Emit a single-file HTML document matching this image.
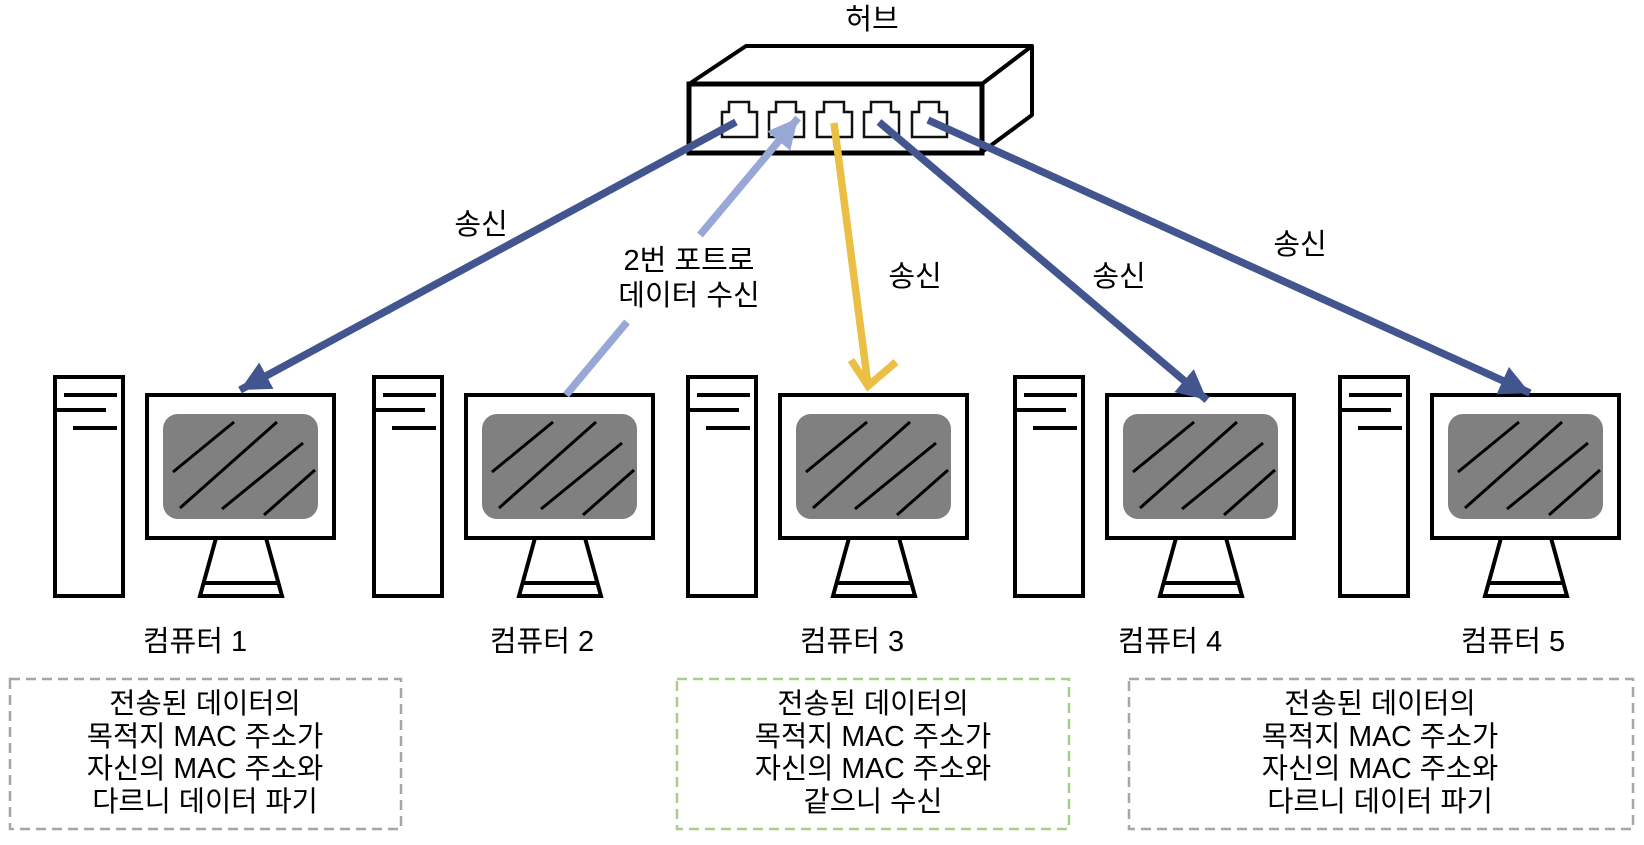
<!DOCTYPE html>
<html><head><meta charset="utf-8"><style>
html,body{margin:0;padding:0;background:#fff;}
svg text{font-family:"Liberation Sans","Noto Sans CJK KR",sans-serif;fill:#000;}
</style></head><body>
<svg width="1644" height="840" viewBox="0 0 1644 840" xmlns="http://www.w3.org/2000/svg">
<defs>
<marker id="ad" viewBox="0 0 4 4" refX="4" refY="2" markerWidth="4" markerHeight="4" orient="auto" markerUnits="strokeWidth"><path d="M0,0 L4,2 L0,4 z" fill="#42558F"/></marker>
<marker id="al" viewBox="0 0 4 4" refX="4" refY="2" markerWidth="4" markerHeight="4" orient="auto" markerUnits="strokeWidth"><path d="M0,0 L4,2 L0,4 z" fill="#97A8D6"/></marker>
<g id="comp">
  <rect x="-92" y="-18" width="68" height="219" fill="#fff" stroke="#000" stroke-width="4"/>
  <line x1="-83" y1="0" x2="-30" y2="0" stroke="#000" stroke-width="4"/>
  <line x1="-92" y1="15" x2="-41" y2="15" stroke="#000" stroke-width="4"/>
  <line x1="-74" y1="33" x2="-30" y2="33" stroke="#000" stroke-width="4"/>
  <rect x="0" y="0" width="187" height="143" fill="#fff" stroke="#000" stroke-width="4"/>
  <rect x="16" y="19" width="155" height="105" rx="15" fill="#808080"/>
  <g stroke="#000" stroke-width="3">
    <line x1="26" y1="77" x2="87" y2="27"/>
    <line x1="33" y1="113" x2="130" y2="27"/>
    <line x1="75" y1="114" x2="156" y2="48"/>
    <line x1="117" y1="120" x2="168" y2="75"/>
  </g>
  <polygon points="69,143 119,143 135,201 53,201" fill="#fff" stroke="#000" stroke-width="4"/>
  <line x1="57" y1="188" x2="131" y2="188" stroke="#000" stroke-width="4"/>
</g>
<g id="port">
  <path d="M0,0 H7 V-10 H27 V0 H35 V25 H0 Z" fill="#fff" stroke="#111" stroke-width="2.5"/>
</g>
</defs>

<!-- hub -->
<text x="872" y="29" font-size="29" text-anchor="middle">허브</text>
<polygon points="689,84 746,46 1032,46 982,84" fill="#fff" stroke="#000" stroke-width="4" stroke-linejoin="round"/>
<polygon points="982,84 1032,46 1032,115 982,152" fill="#fff" stroke="#000" stroke-width="4" stroke-linejoin="round"/>
<rect x="689" y="84" width="293" height="69" fill="#fff" stroke="#000" stroke-width="5"/>
<use href="#port" x="722" y="112"/>
<use href="#port" x="769" y="112"/>
<use href="#port" x="817" y="112"/>
<use href="#port" x="864" y="112"/>
<use href="#port" x="912" y="112"/>

<!-- computers -->
<use href="#comp" x="147" y="395"/>
<use href="#comp" x="466" y="395"/>
<use href="#comp" x="780" y="395"/>
<use href="#comp" x="1107" y="395"/>
<use href="#comp" x="1432" y="395"/>

<!-- arrows -->
<line x1="736" y1="122" x2="240" y2="390" stroke="#42558F" stroke-width="7.5" marker-end="url(#ad)"/>
<line x1="566" y1="395" x2="627" y2="322" stroke="#97A8D6" stroke-width="7.5"/>
<line x1="700" y1="235" x2="798" y2="118" stroke="#97A8D6" stroke-width="7.5" marker-end="url(#al)"/>
<line x1="834" y1="123" x2="868" y2="385" stroke="#EABF43" stroke-width="7.5"/>
<polyline points="851,360 868,386 896,362" fill="none" stroke="#EABF43" stroke-width="7.5"/>
<line x1="879" y1="122" x2="1207" y2="400" stroke="#42558F" stroke-width="7.5" marker-end="url(#ad)"/>
<line x1="928" y1="120" x2="1530" y2="393" stroke="#42558F" stroke-width="7.5" marker-end="url(#ad)"/>

<!-- arrow labels -->
<g font-size="29" text-anchor="middle">
<text x="481" y="234">송신</text>
<text x="915" y="286">송신</text>
<text x="1119" y="286">송신</text>
<text x="1300" y="254">송신</text>
<text x="689" y="270">2번 포트로</text>
<text x="689" y="305">데이터 수신</text>
</g>

<!-- computer labels -->
<g font-size="29" text-anchor="middle">
<text x="195" y="651">컴퓨터 1</text>
<text x="542" y="651">컴퓨터 2</text>
<text x="852" y="651">컴퓨터 3</text>
<text x="1170" y="651">컴퓨터 4</text>
<text x="1513" y="651">컴퓨터 5</text>
</g>

<!-- boxes -->
<rect x="10" y="679" width="391" height="150" fill="none" stroke="#A6A6A6" stroke-width="2.5" stroke-dasharray="10,6"/>
<rect x="677" y="679" width="392" height="150" fill="none" stroke="#A9CD8A" stroke-width="2.5" stroke-dasharray="10,6"/>
<rect x="1129" y="679" width="504" height="150" fill="none" stroke="#A6A6A6" stroke-width="2.5" stroke-dasharray="10,6"/>
<g font-size="28.5" text-anchor="middle">
<text x="205" y="713">전송된 데이터의</text>
<text x="205" y="746">목적지 MAC 주소가</text>
<text x="205" y="778">자신의 MAC 주소와</text>
<text x="205" y="811">다르니 데이터 파기</text>
<text x="873" y="713">전송된 데이터의</text>
<text x="873" y="746">목적지 MAC 주소가</text>
<text x="873" y="778">자신의 MAC 주소와</text>
<text x="873" y="811">같으니 수신</text>
<text x="1380" y="713">전송된 데이터의</text>
<text x="1380" y="746">목적지 MAC 주소가</text>
<text x="1380" y="778">자신의 MAC 주소와</text>
<text x="1380" y="811">다르니 데이터 파기</text>
</g>
</svg>
</body></html>
